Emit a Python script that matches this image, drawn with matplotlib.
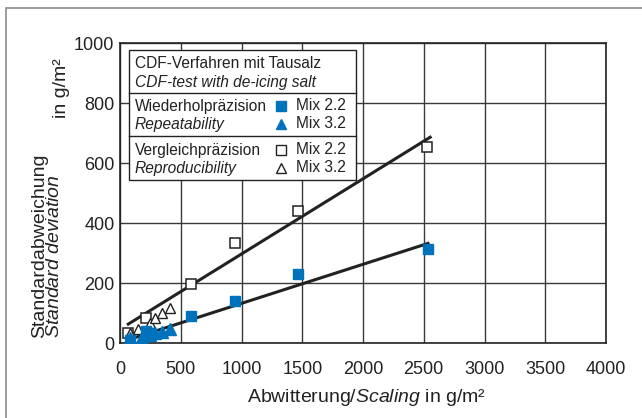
"""CDF test precision chart: standard deviation vs. scaling."""

import matplotlib
matplotlib.use("Agg", force=True)

import matplotlib.pyplot as plt
import matplotlib.patches as mpatches

plt.rcParams["font.family"] = ["Liberation Sans", "DejaVu Sans"]
plt.rcParams["mathtext.fontset"] = "custom"
plt.rcParams["mathtext.rm"] = "Liberation Sans"
plt.rcParams["mathtext.it"] = "Liberation Sans:italic"

# Repeatability (Wiederholpräzision)
rep_mix22_x = [82, 214, 233, 582, 950, 1469, 2535]
rep_mix22_y = [10, 41, 32, 91, 140, 229, 312]
rep_mix32_x = [82, 179, 247, 288, 343, 412]
rep_mix32_y = [17, 21, 27, 32, 38, 46]

# Reproducibility (Vergleichpräzision)
repro_mix22_x = [68, 214, 582, 947, 1466, 2530]
repro_mix22_y = [34, 82, 196, 333, 440, 654]
repro_mix32_x = [82, 151, 247, 288, 343, 412]
repro_mix32_y = [32, 46, 66, 82, 101, 116]

# regression lines
fit_rep_x = [124, 2535]
fit_rep_y = [18, 332]
fit_repro_x = [68, 2553]
fit_repro_y = [63, 686]

x_ticks = [0, 500, 1000, 1500, 2000, 2500, 3000, 3500, 4000]
y_ticks = [0, 200, 400, 600, 800, 1000]

BLUE = "#0072BC"
INK = "#222222"
W, H = 642, 418


def fx(px):
    return px / W


def fy(py):
    return 1 - py / H


fig = plt.figure(figsize=(6.42, 4.18), dpi=100)
fig.patch.set_facecolor("white")

# outer frame, runs off the right and bottom edge
fig.add_artist(mpatches.Rectangle((fx(6), -0.2), 2, fy(8) + 0.2,
                                  transform=fig.transFigure, fill=False,
                                  edgecolor="#8a8a8a", linewidth=1.2))

ax = fig.add_axes([fx(120), fy(343), fx(606) - fx(120), fy(43) - fy(343)])
ax.set_xlim(0, 4000)
ax.set_ylim(0, 1000)
ax.set_xticks(x_ticks)
ax.set_yticks(y_ticks)
ax.tick_params(length=0, labelsize=13, colors=INK)
ax.tick_params(axis="x", pad=13)
ax.tick_params(axis="y", pad=4)
ax.grid(True, color="#3a3a3a", linewidth=1.0)
ax.set_axisbelow(True)
for s in ax.spines.values():
    s.set_color(INK)
    s.set_linewidth(1.2)

ax.plot(fit_rep_x, fit_rep_y, color=INK, lw=2.2, zorder=3)
ax.plot(fit_repro_x, fit_repro_y, color=INK, lw=2.2, zorder=3)

ax.plot(repro_mix22_x, repro_mix22_y, "s", ms=7, mfc="white", mec=INK,
        mew=1.1, ls="none", zorder=4)
ax.plot(repro_mix32_x, repro_mix32_y, "^", ms=7.5, mfc="white", mec=INK,
        mew=1.0, ls="none", zorder=4)
ax.plot(rep_mix22_x, rep_mix22_y, "s", ms=7.5, color=BLUE, ls="none", zorder=5)
ax.plot(rep_mix32_x, rep_mix32_y, "^", ms=8, color=BLUE, ls="none", zorder=5)

# legend box drawn by hand
fig.add_artist(mpatches.Rectangle((fx(129), fy(180)), fx(356) - fx(129),
                                  fy(50) - fy(180), transform=fig.transFigure,
                                  facecolor="white", edgecolor=INK,
                                  linewidth=1.0, zorder=10))
for py in (93, 136):
    fig.add_artist(plt.Line2D([fx(129), fx(356)], [fy(py), fy(py)],
                              transform=fig.transFigure, color=INK,
                              linewidth=1.0, zorder=11))

fs = 11.2
rows = [
    (64, "CDF-Verfahren mit Tausalz", "normal"),
    (82, "CDF-test with de-icing salt", "italic"),
    (107, "Wiederholpräzision", "normal"),
    (124, "Repeatability", "italic"),
    (150, "Vergleichpräzision", "normal"),
    (168, "Reproducibility", "italic"),
]
for py, txt, st in rows:
    fig.text(fx(135), fy(py), txt, fontsize=fs, style=st, va="center",
             ha="left", color=INK, zorder=12)

leg_marks = [
    (106, "s", BLUE, BLUE, "Mix 2.2"),
    (124, "^", BLUE, BLUE, "Mix 3.2"),
    (150, "s", "white", INK, "Mix 2.2"),
    (168, "^", "white", INK, "Mix 3.2"),
]
for py, m, fc, ec, lab in leg_marks:
    fig.add_artist(plt.Line2D([fx(281)], [fy(py)], marker=m, ms=6.5, mfc=fc,
                              mec=ec, mew=1.0, ls="none",
                              transform=fig.transFigure, zorder=12))
    fig.text(fx(296), fy(py), lab, fontsize=fs, va="center", ha="left",
             color=INK, zorder=12)

# axis labels
fig.text(fx(366), fy(398), r"Abwitterung/$\mathit{Scaling}$ in g/m²",
         fontsize=14, ha="center", va="center", color=INK)
fig.text(fx(47), fy(338), "Standardabweichung\n" + r"$\mathit{Standard\ deviation}$",
         rotation=90, fontsize=14, linespacing=0.9, multialignment="left",
         ha="center", va="bottom", color=INK)
fig.text(fx(61), fy(118), "in g/m²", rotation=90, fontsize=14,
         ha="center", va="bottom", color=INK)

fig.savefig("out.png", dpi=100, facecolor="white")
